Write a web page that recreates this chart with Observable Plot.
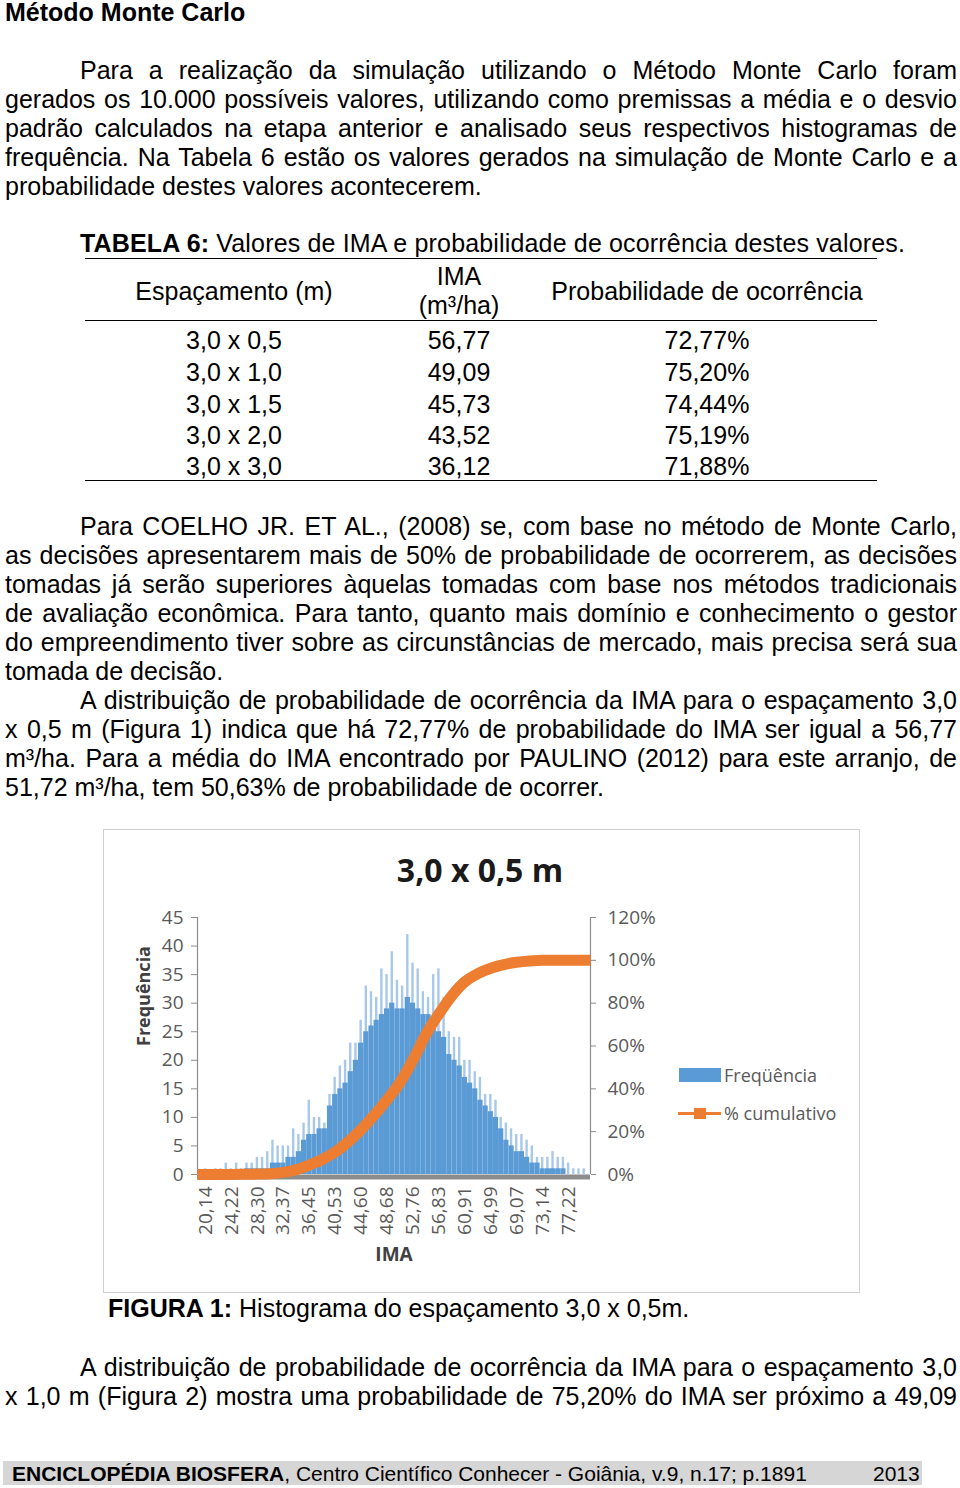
<!DOCTYPE html>
<html><head><meta charset="utf-8">
<script src="https://cdn.jsdelivr.net/npm/d3@7"></script>
<script src="https://cdn.jsdelivr.net/npm/@observablehq/plot@0.6"></script>
<style>
html,body{margin:0;padding:0;background:#fff;}
body{width:960px;height:1488px;position:relative;overflow:hidden;font-family:"Liberation Sans",Arial,Helvetica,sans-serif;font-size:25px;color:#000;}
.blk{position:absolute;line-height:29px;}
.blk div{white-space:nowrap;}
.blk div.j{text-align:justify;text-align-last:justify;white-space:normal;}
.blk div.ind{padding-left:75px;}
.t{position:absolute;line-height:29px;white-space:nowrap;}
.c{transform:translateX(-50%);}
.hr{position:absolute;height:0;border-top:1.5px solid #000;}
#chartbox{position:absolute;left:103px;top:829px;width:757px;height:464px;}
#chartborder{position:absolute;left:103px;top:829px;width:757px;height:464px;box-sizing:border-box;border:1px solid #d0d0d0;pointer-events:none;}
.ct{position:absolute;font-family:"Open Sans",sans-serif;white-space:nowrap;}
</style>
</head><body>

<div class="t" style="left:5px;top:-2px;font-weight:bold;">Método Monte Carlo</div>

<div class="blk" style="left:5px;top:56px;width:952px;">
<div class="j ind">Para a realização da simulação utilizando o Método Monte Carlo foram</div>
<div class="j">gerados os 10.000 possíveis valores, utilizando como premissas a média e o desvio</div>
<div class="j">padrão calculados na etapa anterior e analisado seus respectivos histogramas de</div>
<div class="j">frequência. Na Tabela 6 estão os valores gerados na simulação de Monte Carlo e a</div>
<div>probabilidade destes valores acontecerem.</div>
</div>

<div class="t" style="left:80px;top:229px;letter-spacing:0.16px;"><b>TABELA 6:</b> Valores de IMA e probabilidade de ocorrência destes valores.</div>
<div class="hr" style="left:85px;top:258px;width:792px;"></div>
<div id="tablehead"></div>
<div class="hr" style="left:85px;top:320px;width:792px;"></div>
<div id="tablebody"></div>
<div class="hr" style="left:85px;top:480px;width:792px;"></div>

<div class="blk" style="left:5px;top:512px;width:952px;">
<div class="j ind">Para COELHO JR. ET AL., (2008) se, com base no método de Monte Carlo,</div>
<div class="j">as decisões apresentarem mais de 50% de probabilidade de ocorrerem, as decisões</div>
<div class="j">tomadas já serão superiores àquelas tomadas com base nos métodos tradicionais</div>
<div class="j">de avaliação econômica. Para tanto, quanto mais domínio e conhecimento o gestor</div>
<div class="j">do empreendimento tiver sobre as circunstâncias de mercado, mais precisa será sua</div>
<div>tomada de decisão.</div>
<div class="j ind">A distribuição de probabilidade de ocorrência da IMA para o espaçamento 3,0</div>
<div class="j">x 0,5 m (Figura 1) indica que há 72,77% de probabilidade do IMA ser igual a 56,77</div>
<div class="j">m³/ha. Para a média do IMA encontrado por PAULINO (2012) para este arranjo, de</div>
<div>51,72 m³/ha, tem 50,63% de probabilidade de ocorrer.</div>
</div>

<div id="chartbox"></div>
<div id="chartborder"></div>
<div class="ct" style="left:480px;top:848px;transform:translateX(-50%);font-size:32px;font-weight:bold;color:#1a1a1a;line-height:44px;">3,0 x 0,5 m</div>
<div id="legend"></div>

<div class="t" style="left:108px;top:1294px;"><b>FIGURA 1:</b> Histograma do espaçamento 3,0 x 0,5m.</div>

<div class="blk" style="left:5px;top:1353px;width:952px;">
<div class="j ind">A distribuição de probabilidade de ocorrência da IMA para o espaçamento 3,0</div>
<div class="j">x 1,0 m (Figura 2) mostra uma probabilidade de 75,20% do IMA ser próximo a 49,09</div>
</div>

<div style="position:absolute;left:3px;top:1461px;width:919px;height:24px;background:#d6d6d6;"></div>
<div class="t" style="left:12px;top:1459px;font-size:21px;"><b>ENCICLOPÉDIA BIOSFERA</b>, Centro Científico Conhecer - Goiânia, v.9, n.17; p.1891</div>
<div class="t" style="left:873px;top:1459px;font-size:21px;">2013</div>

<script>
// ---------- Table data ----------
const tableHeaders = ["Espaçamento (m)", "IMA", "(m³/ha)", "Probabilidade de ocorrência"];
const tableSpacing = ["3,0 x 0,5", "3,0 x 1,0", "3,0 x 1,5", "3,0 x 2,0", "3,0 x 3,0"];
const tableIMA = [56.77, 49.09, 45.73, 43.52, 36.12];
const tableProb = [72.77, 75.20, 74.44, 75.19, 71.88];

// ---------- Histogram data (IMA bins, frequency) ----------
const binStart = 19.7323;
const binWidth = 0.8154;
const freqBody = [
  0,0,0,0,0,0,0,0,1,1,
  1,1,1,2,2,2,3,3,4,6,
  7,7,8,8,12,14,15,16,18,20,
  23,25,26,27,28,29,30,29,29,31,
  30,29,28,28,26,25,24,21,20,19,
  17,16,15,13,12,11,10,8,6,5,
  4,4,3,2,2,1,1,1,1,1,
  0,0,0,0
];
const freqPeak = [
  1,0,1,1,2,1,2,1,2,2,
  3,3,4,6,5,5,5,8,7,9,
  13,10,10,9,14,17,19,20,23,23,
  27,33,32,31,36,35,39,34,33,42,
  37,36,32,31,35,36,31,25,24,24,
  20,20,18,17,14,14,13,10,9,8,
  7,7,6,5,3,3,3,4,3,3,
  2,1,1,1
];

// ---------- Cumulative % curve ----------
const cumIMA = [18.9, 20.14, 22.18, 24.22, 26.26, 28.30, 30.34, 32.37, 34.41, 36.45, 38.49, 40.53, 42.57, 44.60, 46.64, 48.68, 50.72, 52.76, 54.80, 56.83, 58.87, 60.91, 62.95, 64.99, 67.03, 69.07, 71.11, 73.14, 75.18, 77.22, 79.26, 80.66];
const cumPct = [0, 0, 0, 0, 0.1, 0.2, 0.4, 1.0, 2.2, 4.4, 7, 10.5, 15.3, 21, 27.6, 35, 43, 53.5, 65.5, 75, 83.5, 90, 93.8, 96.3, 98, 99.1, 99.7, 100, 100, 100, 100, 100];

// ---------- Axes ----------
const xTickLabels = [20.14, 24.22, 28.30, 32.37, 36.45, 40.53, 44.60, 48.68, 52.76, 56.83, 60.91, 64.99, 69.07, 73.14, 77.22];
const xDomain = [18.88, 80.66];
const yTicks = [0, 5, 10, 15, 20, 25, 30, 35, 40, 45];
const pctTicks = [0, 20, 40, 60, 80, 100, 120];
const yMax = 45, pctMax = 120;

const blue = "#5b9bd5", blueLight = "#a8c8ea", orange = "#ed7d31", axisGray = "#8c8c8c", tickText = "#595959", labelText = "#404040";

// ---------- Build table ----------
const fmt2 = v => v.toFixed(2).replace(".", ",");
const th = document.getElementById("tablehead");
const place = (parent, html, cx, cy) => {
  const d = document.createElement("div");
  d.className = "t c";
  d.style.left = cx + "px";
  d.style.top = (cy - 14) + "px";
  d.innerHTML = html;
  parent.appendChild(d);
};
place(th, tableHeaders[0], 234, 291);
place(th, tableHeaders[1], 459, 276);
place(th, tableHeaders[2], 459, 305);
place(th, tableHeaders[3], 707, 291);
const tb = document.getElementById("tablebody");
const rowY = [340, 372, 404, 435, 466];
tableSpacing.forEach((s, i) => {
  place(tb, s, 234, rowY[i]);
  place(tb, fmt2(tableIMA[i]), 459, rowY[i]);
  place(tb, fmt2(tableProb[i]) + "%", 707, rowY[i]);
});

// ---------- Chart ----------
const bins = freqBody.map((b, i) => ({
  x1: binStart + i * binWidth,
  x2: binStart + (i + 1) * binWidth,
  body: b,
  peak: freqPeak[i]
}));
const cum = cumIMA.map((x, i) => ({x, pct: cumPct[i]}));
const toY = p => p * yMax / pctMax;

const chart = Plot.plot({
  width: 757,
  height: 464,
  marginLeft: 94,
  marginRight: 270,
  marginTop: 88,
  marginBottom: 119,
  style: {fontFamily: "'Open Sans', sans-serif", fontSize: "19px", color: tickText, background: "transparent"},
  x: {domain: xDomain},
  y: {domain: [0, yMax]},
  marks: [
    Plot.rectY(bins, {x1: "x1", x2: "x2", y: "peak", fill: blueLight, insetLeft: 1.4, insetRight: 1.4}),
    Plot.rectY(bins, {x1: "x1", x2: "x2", y: "body", fill: blue}),
    Plot.ruleX([xDomain[0]], {stroke: axisGray, strokeWidth: 1.2}),
    Plot.ruleX([xDomain[1]], {stroke: axisGray, strokeWidth: 1.2}),
    Plot.ruleY([0], {stroke: axisGray, strokeWidth: 5, dy: 2.5}),
    Plot.line(cum, {x: "x", y: d => toY(d.pct), stroke: orange, strokeWidth: 11, curve: "monotone-x", strokeLinecap: "butt"}),
    Plot.axisY({ticks: yTicks, tickSize: 6, tickPadding: 8, stroke: axisGray, fill: tickText, label: null}),
    Plot.axisY({anchor: "right", ticks: pctTicks.map(toY), tickFormat: d => Math.round(d * pctMax / yMax) + "%", tickSize: 5, tickPadding: 12, stroke: axisGray, fill: tickText, label: null}),
    Plot.axisX({ticks: xTickLabels, tickFormat: fmt2, tickRotate: -90, tickSize: 0, tickPadding: 12, fill: tickText, label: null}),
    Plot.text(["Frequência"], {frameAnchor: "left", dx: -53, rotate: -90, fontWeight: "bold", fill: labelText, fontSize: 18}),
    Plot.text(["IMA"], {frameAnchor: "bottom", dy: 86, fontWeight: "bold", fill: labelText, fontSize: 19})
  ]
});
document.getElementById("chartbox").appendChild(chart);

// ---------- Legend ----------
const legendItems = [
  {label: "Freqüência", type: "bar", color: blue},
  {label: "% cumulativo", type: "line", color: orange}
];
const lg = document.getElementById("legend");
const legendY = [1075, 1113];
legendItems.forEach((it, i) => {
  const cy = legendY[i];
  if (it.type === "bar") {
    const r = document.createElement("div");
    Object.assign(r.style, {position: "absolute", left: "679px", top: (cy - 7) + "px", width: "42px", height: "14px", background: it.color});
    lg.appendChild(r);
  } else {
    const l = document.createElement("div");
    Object.assign(l.style, {position: "absolute", left: "678px", top: (cy - 1.5) + "px", width: "43px", height: "3px", background: it.color});
    lg.appendChild(l);
    const m = document.createElement("div");
    Object.assign(m.style, {position: "absolute", left: "694px", top: (cy - 5.5) + "px", width: "12px", height: "11px", background: it.color});
    lg.appendChild(m);
  }
  const t = document.createElement("div");
  t.className = "ct";
  Object.assign(t.style, {left: "724px", top: (cy - 13) + "px", fontSize: "18px", lineHeight: "26px", color: tickText});
  t.textContent = it.label;
  lg.appendChild(t);
});
</script>
</body></html>
